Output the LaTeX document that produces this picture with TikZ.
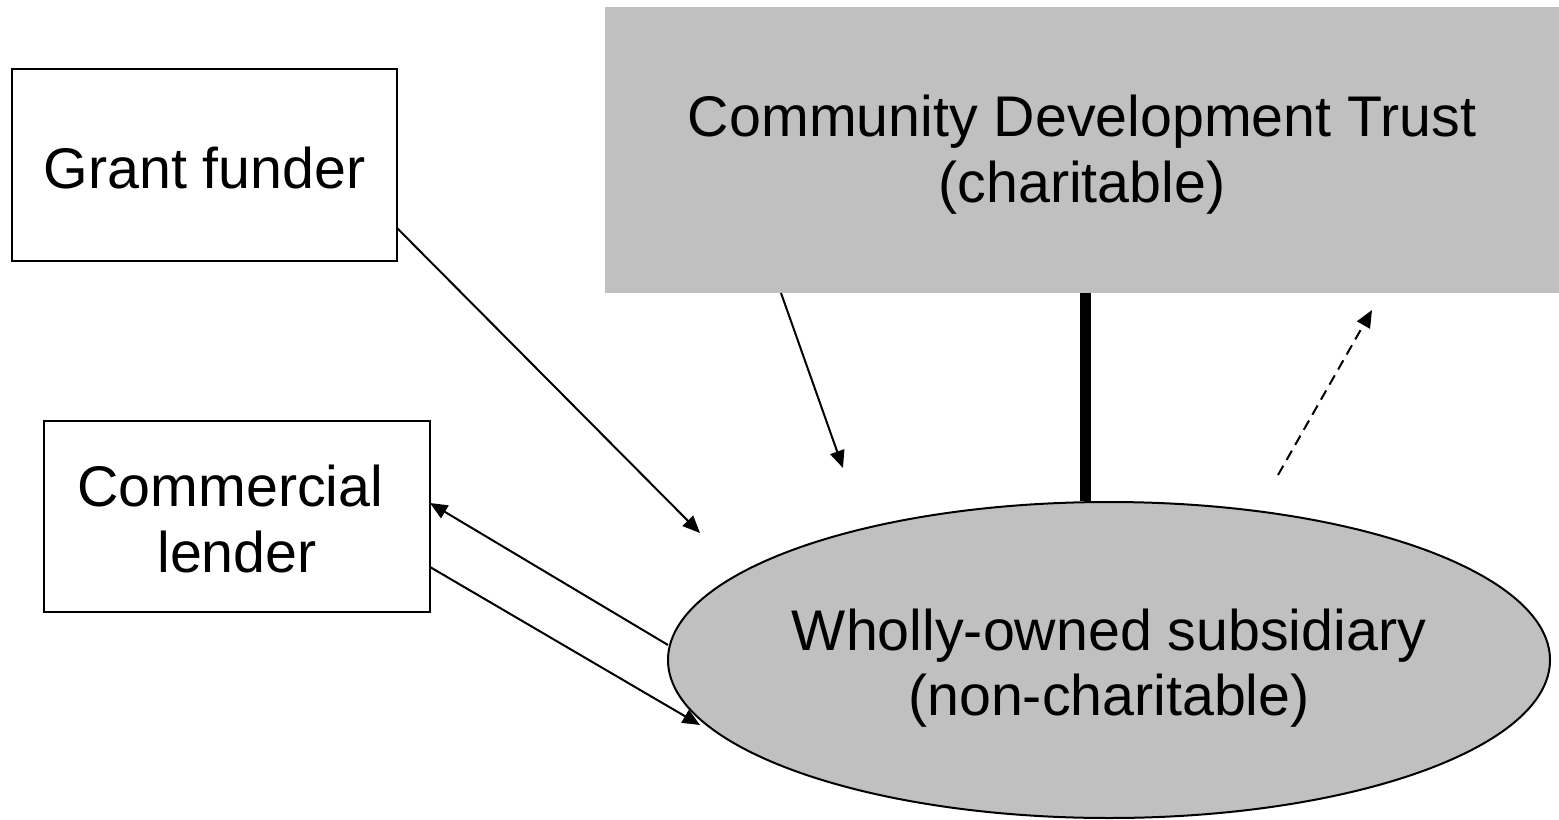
\documentclass[tikz,border=0pt]{standalone}
\usepackage{fontspec}
\setmainfont{Liberation Sans}
\usetikzlibrary{shapes.geometric,arrows.meta}
\definecolor{boxgray}{HTML}{C0C0C0}
\tikzset{
  lbl/.style={font=\fontsize{43}{49}\selectfont, align=center},
  whitebox/.style={draw=black, line width=1.5pt, fill=white, inner sep=0pt},
  arr/.style={line width=1.5pt, -{Triangle[length=13pt,width=11pt]}},
}
\begin{document}
\begin{tikzpicture}[x=0.75pt,y=-0.75pt]
\useasboundingbox (0,0) rectangle (1559,820);
% shapes
\node[fill=boxgray, minimum width=715.5pt, minimum height=214.5pt, inner sep=0pt] (cdt) at (1082,150) {};
\node[whitebox, minimum width=288.75pt, minimum height=144pt] (gf) at (204.5,165) {};
\node[whitebox, minimum width=289.5pt, minimum height=143.25pt] (cl) at (237,516.5) {};
\node[ellipse, draw=black, line width=1.5pt, fill=boxgray, minimum width=661.5pt, minimum height=237pt, inner sep=0pt] (sub) at (1109,660) {};
% texts
\node[lbl] (cdtt) at ([yshift=-3.5pt]cdt.center) {Community Development Trust\\(charitable)};
\node[lbl] (gft) at ([yshift=-2.5pt]gf.center) {Grant funder};
\node[lbl] (clt) at ([yshift=-2pt]cl.center) {Commercial\hbox to 10pt{}\\lender};
\node[lbl] (subt) at ([yshift=-6pt]sub.center) {Wholly-owned subsidiary\\(non-charitable)};
% coordinates
\coordinate (gfout) at (397,228);
\coordinate (gfin) at (700,533);
\coordinate (cdtout) at (781,293);
\coordinate (cdtin) at (843,468);
\coordinate (clin) at (430,503);
\coordinate (subout) at (668,645);
\coordinate (clout) at (430,567);
\coordinate (subin) at (700,725);
\coordinate (dstart) at (1278,475);
\coordinate (dend) at (1372,310);
% connectors
\draw[line width=8.25pt] (cdt.south -| 1085,0) -- (sub.north -| 1085,0);
\draw[arr] (gfout) -- (gfin);
\draw[arr] (cdtout) -- (cdtin);
\draw[arr] (subout) -- (clin);
\draw[arr] (clout) -- (subin);
\draw[arr, dash pattern=on 8pt off 5pt] (dstart) -- (dend);
\end{tikzpicture}
\end{document}
